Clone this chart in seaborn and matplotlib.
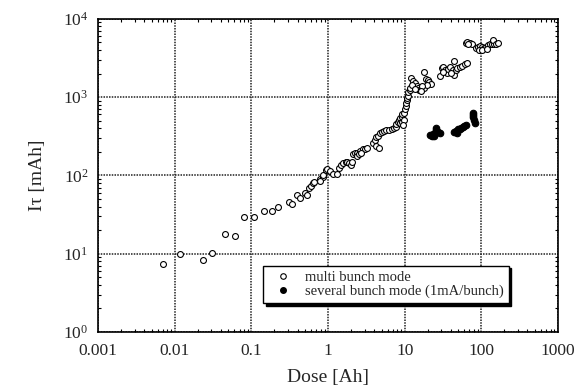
import numpy as np
import pandas as pd
import seaborn as sns
import matplotlib.pyplot as plt
from matplotlib.ticker import LogLocator, FixedLocator, FixedFormatter, NullFormatter
from matplotlib.lines import Line2D

# open circles: multi bunch mode
multi_dose = [0.0070, 0.0117, 0.0234, 0.0306, 0.0453, 0.0605, 0.0794, 0.109,
              0.147, 0.186, 0.224, 0.306, 0.338, 0.389, 0.43, 0.495, 0.526,
              0.558, 0.598, 0.641, 0.655, 0.78, 0.85, 0.79, 0.86, 0.94, 0.97,
              1.06, 1.17, 1.29, 1.40, 1.47, 1.58, 1.72, 1.78, 1.9, 2.0, 2.05,
              2.13, 2.26, 2.4, 2.59, 2.85, 3.0, 3.2, 2.37, 2.51, 2.66,
              3.88, 4.05, 4.2, 4.45, 4.27, 4.6, 4.7, 5.0, 5.3, 5.75, 6.2, 6.75,
              7.2, 7.65, 7.8, 8.1, 8.5, 8.6, 9.2, 9.35, 9.8, 10.0, 10.3, 8.8,
              9.35, 9.9, 9.5, 10.5, 10.6,
              10.7, 11.1, 11.0, 11.6, 11.8, 12.05, 12.9, 13.5, 14.4, 14.9, 15.5,
              16.5, 17.8, 18.1, 18.9, 20.1, 20.9, 21.8, 19.3, 17.0, 12.5, 13.8,
              16.2,
              30.3, 32.0, 33.9, 35.2, 37.3, 39.6, 42.1, 43.7, 44.6, 46.4, 48.3,
              52.3, 56.8, 60.5, 64.3, 28.9, 32.0, 40.4,
              63.2, 65.7, 71.0, 76.0, 68.0,
              84, 89.6, 95.3, 101, 107.5, 114, 122, 129, 137, 146, 140, 155, 165,
              92, 102, 120]
multi_life = [7.5, 9.8, 8.4, 10.2, 17.9, 16.9, 29.3, 29.3,
              35.6, 35.6, 39.4, 46, 43, 56, 52, 60.5, 56,
              69.5, 73.6, 79.6, 82.8, 89.8, 95.5, 85, 100, 118, 121,
              113, 105, 103, 125, 136, 144, 150, 150, 142, 136, 147,
              189, 192, 194, 208, 215, 220, 225, 178, 185, 192,
              258, 281, 307, 316, 235, 224, 346, 360, 368, 375, 385, 388,
              405, 413, 458, 485, 515, 545, 565, 600, 630, 700, 763, 465,
              485, 515, 440, 850, 920,
              970, 1040, 1150, 1220, 1300, 1730, 1600, 1510, 1400, 1300, 1220,
              1240, 1290, 2100, 1700, 1640, 1570, 1480, 1430, 1370, 1440, 1260,
              1190,
              2345, 2460, 2230, 2030, 2280, 2410, 2230, 2880, 1930, 2190, 2330,
              2460, 2510, 2620, 2720, 1870, 2070, 2030,
              4900, 4990, 4900, 4800, 4700,
              4230, 4430, 4530, 4350, 4270, 4430, 4600, 4700, 4700, 4800, 5290,
              4700, 4900, 4020, 4020, 4100]

# filled circles: several bunch mode
several_dose = [21.1, 22.9, 24.9, 26.0, 27.1, 28.8, 24.3, 23.5, 25.5,
                44.6, 47.3, 50.3, 54.6, 59.1, 63.2, 48.3, 52.0, 57.0,
                77.4, 79.0, 80.6, 81.6, 78.2]
several_life = [330, 323, 347, 400, 360, 347, 316, 335, 375,
                355, 368, 390, 405, 430, 440, 347, 395, 420,
                625, 565, 515, 465, 590]

x_ticks = [0.001, 0.01, 0.1, 1, 10, 100, 1000]
x_labels = ["0.001", "0.01", "0.1", "1", "10", "100", "1000"]
y_ticks = [1, 10, 100, 1000, 10000]
y_labels = [r"$10^{0}$", r"$10^{1}$", r"$10^{2}$", r"$10^{3}$", r"$10^{4}$"]

multi = pd.DataFrame({"dose": multi_dose, "life": multi_life})
several = pd.DataFrame({"dose": several_dose, "life": several_life})

sns.set_style("ticks")
plt.rcParams["font.family"] = ["Liberation Serif", "DejaVu Serif"]
plt.rcParams["mathtext.fontset"] = "custom"
plt.rcParams["mathtext.rm"] = "Liberation Serif"
plt.rcParams["mathtext.it"] = "Liberation Serif:italic"

fig = plt.figure(figsize=(5.77, 3.92), dpi=100)
ax = fig.add_axes([0.170, 0.153, 0.797, 0.799])

sns.scatterplot(data=multi, x="dose", y="life", ax=ax, marker="o", s=18,
                facecolor="white", edgecolor="black", linewidth=0.8, zorder=3)
sns.scatterplot(data=several, x="dose", y="life", ax=ax, marker="o", s=22,
                color="black", edgecolor="black", linewidth=0.8, zorder=3)

ax.set_xscale("log")
ax.set_yscale("log")
ax.set_xlim(0.001, 1000)
ax.set_ylim(1, 10000)

ax.xaxis.set_major_locator(FixedLocator(x_ticks))
ax.xaxis.set_major_formatter(FixedFormatter(x_labels))
ax.yaxis.set_major_locator(FixedLocator(y_ticks))
ax.yaxis.set_major_formatter(FixedFormatter(y_labels))
ax.xaxis.set_minor_locator(LogLocator(base=10, subs=np.arange(2, 10), numticks=20))
ax.yaxis.set_minor_locator(LogLocator(base=10, subs=np.arange(2, 10), numticks=20))
ax.xaxis.set_minor_formatter(NullFormatter())
ax.yaxis.set_minor_formatter(NullFormatter())

ax.tick_params(which="both", direction="in", top=True, right=True, color="black")
ax.tick_params(which="major", length=0, labelsize=12.5)
ax.tick_params(axis="x", which="major", pad=8)
ax.tick_params(axis="y", which="major", pad=7)
ax.tick_params(which="minor", length=2.5, width=0.8)
for sp in ax.spines.values():
    sp.set_linewidth(1.2)
    sp.set_color("black")

ax.grid(True, which="major", color="#222222", linestyle=(0, (1, 0.8)), linewidth=1.1)

ax.set_xlabel("Dose [Ah]", fontsize=14, labelpad=7)
ax.set_ylabel("I\u03c4 [mAh]", fontsize=14, labelpad=12)

handles = [
    Line2D([], [], marker="o", linestyle="none", markersize=4,
           markerfacecolor="white", markeredgecolor="black", markeredgewidth=0.8),
    Line2D([], [], marker="o", linestyle="none", markersize=4,
           markerfacecolor="black", markeredgecolor="black"),
]
leg = ax.legend(handles, ["multi bunch mode", "several bunch mode (1mA/bunch)"],
                loc="lower left", bbox_to_anchor=(0.359, 0.092), borderaxespad=0,
                fontsize=10.5, frameon=True, fancybox=False, edgecolor="black",
                framealpha=1, shadow={"color": "black", "alpha": 1},
                handletextpad=0.5, labelspacing=0.05, borderpad=0.35,
                handlelength=2.0)
leg.get_frame().set_linewidth(1.0)

fig.savefig("out.png", dpi=100)
